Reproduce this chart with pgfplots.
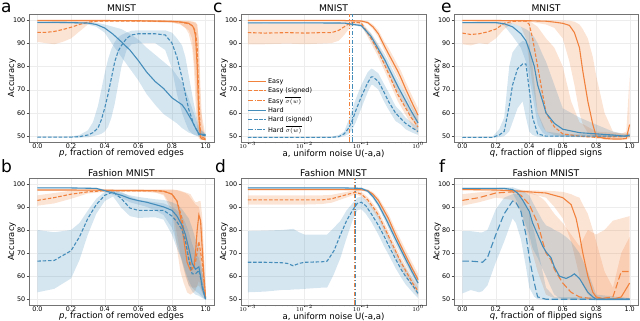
\documentclass[border=0pt]{standalone}
\usepackage{fontspec}
\setmainfont{DejaVu Sans}
\usepackage{pgfplots}
\pgfplotsset{compat=1.18}
\usepackage{pgfplotstable}
\usepgfplotslibrary{fillbetween}

\definecolor{cO}{RGB}{240,130,62}
\definecolor{cB}{RGB}{68,140,186}

% ---------------- Panel a ----------------
\pgfplotstableread{
x m lo hi
0 99.7 99.3 99.9
0.2 99.7 99.4 99.9
0.4 99.7 99.5 99.9
0.6 99.6 99.4 99.8
0.8 99.3 98.8 99.7
0.85 99.1 98.2 99.6
0.88 98.8 96.5 99.5
0.9 98.5 94 99.4
0.92 97.5 88 99.2
0.93 96.5 80 99
0.94 93 65 98.5
0.95 80 52 98
0.96 58 49 92
0.97 49.5 48.5 70
0.98 48.8 48.3 55
1.0 48.5 48.2 49
}\aE
\pgfplotstableread{
x m lo hi
0 94.6 90.5 98.5
0.05 94.6 90 99
0.1 95 89.5 99.5
0.15 95.8 90.5 99.6
0.2 96.8 92 99.7
0.25 98 95 99.8
0.3 99 98 99.9
0.35 99.4 99 99.9
0.4 99.5 99.2 99.9
0.6 99.5 99.2 99.9
0.8 99.3 98.8 99.8
0.85 99 98 99.6
0.9 98.3 95.5 99.5
0.92 97.5 92 99.3
0.94 95 75 99
0.95 88 60 98
0.96 65 50 90
0.97 50 48.5 62
1.0 48.8 48.3 50
}\aES
\pgfplotstableread{
x m lo hi
0 98.9 98.5 99.2
0.1 98.9 98.5 99.2
0.2 98.8 98.4 99.2
0.3 98.6 98 99.1
0.35 98 97 98.8
0.4 96.5 94.5 98
0.45 93.8 89 97
0.5 90.5 84 96
0.55 87 79 94
0.6 82.5 74 91.5
0.65 77.5 68 88
0.7 73.5 63.5 85
0.75 70.5 59.5 82
0.8 66.5 57 79
0.83 65 55.5 76
0.86 63.5 53.5 73
0.88 61.5 52.5 70
0.9 59 51.5 66
0.92 56.5 51 62
0.94 53.5 50.5 58
0.96 51 50 53
1.0 50.6 50.2 51
}\aH
\pgfplotstableread{
x m lo hi
0 49.6 49.4 49.8
0.1 49.6 49.4 49.8
0.2 49.6 49.4 49.9
0.25 49.8 49.4 50.5
0.3 50.5 49.5 52.5
0.33 51.5 50 56
0.36 53.5 50.5 63
0.38 57 51 70
0.4 62 52 77
0.42 68 54 83
0.44 75 58 87.5
0.46 82 64 90.5
0.48 86.5 72 92.5
0.5 89 80 93.5
0.53 92 87 94.5
0.56 93.5 89.5 95.3
0.6 94 90 95.5
0.7 94 90 95.5
0.76 93.5 87 95.5
0.8 90 79 94.5
0.83 84 68 92
0.86 75 60 89
0.88 68 56 84
0.9 61.5 52.5 76
0.93 55 50.5 64
0.96 50.8 49.8 54
1.0 50.2 49.8 50.8
}\aHS

% ---------------- Panel b ----------------
\pgfplotstableread{
x m lo hi
0 97.3 97 97.6
0.2 97.3 97 97.6
0.4 97.2 96.9 97.5
0.6 97.1 96.7 97.5
0.7 97 96.2 97.5
0.75 96.8 95 97.5
0.8 95.5 88 97.5
0.83 92.5 72 97.3
0.85 86 62 97
0.87 76 57 96.5
0.89 66 53 96
0.91 62.5 52 95.5
0.93 64 53 93
0.94 70 54 92
0.95 80 56 92
0.96 86.5 58 92.5
0.97 84 56 92.5
0.98 72 53 86
0.99 60 51 70
1.0 50.5 50 55
}\bE
\pgfplotstableread{
x m lo hi
0 92.8 90.5 95
0.1 94 91.5 96
0.2 95.5 93.5 97
0.3 96.5 95.8 97.5
0.4 97 96.5 97.5
0.6 97 96.5 97.5
0.7 97 96.3 97.5
0.75 96.8 95.5 97.5
0.8 95.5 90 97.5
0.83 92.5 78 97.2
0.86 85 66 96.5
0.88 76 60 96
0.9 68 56 95
0.92 63 55 93
0.94 66 55 91
0.96 75 56 90
0.98 66 53 82
1.0 50 50 52
}\bES
\pgfplotstableread{
x m lo hi
0 98.2 98 98.4
0.2 98.2 98 98.4
0.35 98 97.7 98.3
0.4 97 96.5 97.5
0.45 96 95.2 96.8
0.5 95 93.8 96
0.55 93.6 92 95
0.6 92.7 91 94.3
0.65 92 90 93.8
0.7 91 88.5 93.3
0.75 90 86.5 93
0.8 88.5 81 92
0.83 86 74 91
0.86 82 66 89
0.88 78 61 87
0.9 72 56 85
0.92 65.5 53.5 81
0.94 63 52 76
0.96 64 51.5 73
0.97 60 51 69
0.98 55 50.5 62
1.0 50 49.8 51
}\bH
\pgfplotstableread{
x m lo hi
0 66.5 53 80
0.1 66.8 54.5 79
0.2 71 59 80
0.25 77 67 83
0.3 85 78 88.5
0.35 91 87 93.5
0.4 95 92.5 96.5
0.45 96.5 94.5 97.5
0.5 93.5 89.5 96.5
0.55 89.5 86 94.5
0.6 88.5 85.2 93
0.7 88.5 85.5 92
0.75 88.5 84.5 91.5
0.8 86 78 90
0.83 83.5 72 88.5
0.86 80 67 86
0.88 75 62 83
0.9 67 58 79
0.92 61 55 74
0.94 61 53.5 70
0.96 62.5 52.5 68
0.98 56 51 62
1.0 50 49.8 51.5
}\bHS

% ---------------- Panel c ----------------
\pgfplotstableread{
x m lo hi
0.001 99.7 99.4 99.9
0.01 99.7 99.4 99.9
0.05 99.7 99.4 99.9
0.1 99.5 99.1 99.8
0.13 98.8 98.2 99.4
0.16 97 96 98
0.2 94 92.5 95.5
0.257 88.6 86.5 90.5
0.3 85.5 83 88
0.44 77.9 75 80.5
0.5 75 72 78
0.6 70.5 67.5 73.5
0.76 65 62 68
1.0 59 56 62
}\cE
\pgfplotstableread{
x m lo hi
0.001 94.5 89.5 98.5
0.002 94.3 89.5 98.4
0.005 94.5 89.8 98.5
0.01 94.3 89.5 98.4
0.02 94.5 89.8 98.5
0.03 94.5 90 98.6
0.04 95.5 91 99
0.05 97 93.5 99.3
0.06 98.3 96 99.6
0.07 98.8 97.5 99.7
0.08 99 98 99.7
0.1 98.6 97.6 99.4
0.148 92 90 94
0.195 87 84.5 89.5
0.257 80.7 78 83.5
0.44 67.9 65 71
0.76 57.9 55 61
1.0 54 51 57
}\cES
\pgfplotstableread{
x m lo hi
0.001 98.7 98.4 99
0.01 98.7 98.4 99
0.05 98.6 98.3 98.9
0.1 97.5 97 98
0.148 92.9 91.5 94.3
0.257 82.9 80.5 85.3
0.44 71.4 68.5 74.3
0.76 60.7 58 63.5
1.0 55.7 53 58.5
}\cH
\pgfplotstableread{
x m lo hi
0.001 49.5 49.3 49.7
0.01 49.5 49.3 49.7
0.03 49.5 49.3 49.8
0.04 49.8 49.4 50.5
0.05 51 50 52
0.06 53.5 51 57
0.07 57 53 62
0.08 61 56 66
0.1 67 62 72
0.13 73 69 77.5
0.15 75.5 72 79
0.16 75.5 72 78.8
0.2 73.5 70 77
0.25 69 65 72.5
0.3 65 61.5 69
0.4 60 56.5 63
0.5 57.5 55 60.5
0.6 55.5 53 58
0.8 53.5 51.5 55.5
1.0 52 50.5 54
}\cHS

% ---------------- Panel d ----------------
\pgfplotstableread{
x m lo hi
0.001 97.5 97.2 97.8
0.01 97.5 97.2 97.8
0.05 97.5 97.2 97.8
0.1 97.4 97 97.8
0.13 97 96.4 97.6
0.16 95.5 94.6 96.4
0.2 92.8 91.5 94
0.25 88.5 86.8 90.2
0.3 85 83 87
0.4 78 75.8 80.2
0.5 73 70.5 75.5
0.6 69 66.5 71.5
0.8 63 60.5 65.5
1.0 58.5 56 61
}\dE
\pgfplotstableread{
x m lo hi
0.001 93 91 95
0.005 93 91 95
0.01 93 91 95
0.02 93 91.2 95
0.03 93.5 91.8 95.2
0.05 95 93.7 96.3
0.07 96 95 97
0.08 96.3 95.4 97.2
0.1 95.5 94.5 96.5
0.13 93 91.8 94.2
0.16 90 88.5 91.5
0.2 86.5 84.8 88.2
0.25 81.5 79.5 83.5
0.3 77.5 75.5 79.5
0.4 71 68.8 73.2
0.5 66 63.8 68.2
0.6 62.5 60.3 64.7
0.8 57 55 59
1.0 53.5 51.5 55.5
}\dES
\pgfplotstableread{
x m lo hi
0.001 98.2 97.9 98.5
0.01 98.2 97.9 98.5
0.05 98.2 97.9 98.5
0.1 98 97.6 98.4
0.13 96.8 96.2 97.4
0.16 94.5 93.6 95.4
0.2 91 89.8 92.2
0.275 84.5 82.8 86.2
0.41 75.6 73.5 77.7
0.6 67.5 65.3 69.7
0.8 61.5 59.3 63.7
1.0 57 54.8 59.2
}\dH
\pgfplotstableread{
x m lo hi
0.001 66 53 79.5
0.002 66 53.3 79.7
0.004 65.8 54 80
0.005 65.5 54 80.2
0.0063 64.5 54.2 80.5
0.008 65.5 54.3 79
0.01 66 54.5 78
0.02 66.2 55 78
0.025 66.5 55 78
0.033 71 61 81
0.043 78 68 84
0.055 84 76.5 88.5
0.07 88.5 84 91.5
0.085 91.5 88.5 94
0.1 92 89 94.5
0.12 90.5 87 93
0.15 87 83.5 90.5
0.2 82 78 86
0.25 77.5 73 81.5
0.3 73.5 69.5 77.5
0.4 67.5 63.5 71
0.5 63 59.5 66.5
0.6 60 56.5 63.5
0.8 56 53 59
1.0 52.5 50.5 55
}\dHS

% ---------------- Panel e ----------------
\pgfplotstableread{
x m lo hi
0 99.7 99.4 99.9
0.2 99.7 99.4 99.9
0.4 99.6 99.2 99.9
0.5 99.4 98 99.9
0.55 99 96.5 99.8
0.6 98.5 92 99.8
0.64 97.6 82 99.6
0.67 94.5 72 99.2
0.7 88 60 98
0.72 78 55 96
0.75 65 51.5 92
0.78 55 49.5 84
0.8 50 49 76
0.85 49 48.5 60
0.9 48.8 48.3 52
0.95 48.8 48.3 51
0.98 49 48.5 52
1.0 55 49 76
}\eE
\pgfplotstableread{
x m lo hi
0 94.3 89.5 98.5
0.05 93.7 89 99
0.1 94 90 99.5
0.15 94.8 89.5 99.6
0.2 96 92 99.7
0.25 98.5 96 99.8
0.3 99.3 98.5 99.9
0.35 99.5 97 100
0.38 99.4 92 99.9
0.4 98 82 99.5
0.42 92 72 98.5
0.45 80 60 97
0.48 68 54 94
0.5 60 52 92
0.55 54 50.5 88
0.6 51 50 80
0.65 50.5 49.8 65
0.7 50 49.6 56
0.8 49.5 49.2 52
1.0 50 49.5 51
}\eES
\pgfplotstableread{
x m lo hi
0 98.8 98.5 99.1
0.2 98.8 98.4 99.1
0.25 98.3 97.5 98.8
0.3 97 93 98.5
0.35 94 88 97
0.38 91 82 96
0.4 87 75 95
0.43 80 63 92.5
0.45 72 55 90
0.48 65 51.5 85
0.5 60 50.5 82
0.55 55.5 50 72
0.6 53 49.8 62
0.7 51.5 49.8 58
0.8 51 49.8 55
0.9 50.5 49.6 52
0.97 50 49.5 51
1.0 50.5 49.8 51.5
}\eH
\pgfplotstableread{
x m lo hi
0 49.5 49.3 49.7
0.18 49.5 49.3 49.8
0.22 50.5 49.6 53
0.25 52 50 58
0.28 63 52 80
0.3 72 56 86
0.33 79 62 89
0.36 81 65 91
0.38 81 58 90.5
0.4 70 52 89
0.42 58 50.5 80
0.45 51 49.8 60
0.5 50 49.6 52
0.6 50 49.6 51
1.0 50 49.6 50.5
}\eHS

% ---------------- Panel f ----------------
\pgfplotstableread{
x m lo hi
0 97.5 97.2 97.8
0.2 97.3 97 97.7
0.3 97 96.6 97.5
0.4 96.5 95.8 97.2
0.5 96 94 97
0.55 95 90 96.8
0.6 94 85 96.5
0.65 91 75 95.5
0.68 85 66 94.5
0.7 78 60 94
0.72 70 56 91
0.75 60 52 87
0.78 53 50.5 80
0.8 51 50 75
0.85 50 49.6 62
0.9 50 49.6 55
0.95 51 49.8 70
1.0 57 50 77
}\fE
\pgfplotstableread{
x m lo hi
0 92.8 90.5 95.5
0.1 94 92 96.3
0.2 96 94 97
0.3 96.5 93 97
0.35 95 88 97
0.4 91 75 96.5
0.45 83 62 95
0.48 75 56 93.5
0.5 70 52 92
0.53 67 51 89
0.55 63 50.5 87
0.6 57 50 83
0.65 53 49.8 78
0.7 51 49.8 73
0.75 50.5 49.8 80
0.8 50.5 49.8 78
0.85 50.5 49.8 80
0.9 51 49.8 84
0.95 62 50 85
1.0 62 50 86
}\fES
\pgfplotstableread{
x m lo hi
0 98 97.7 98.3
0.25 98 97.6 98.4
0.3 97.5 96 98.5
0.33 96 92 97.8
0.36 93 86 97
0.4 88 78 95
0.42 83 72 92
0.45 78 68 88
0.48 73 63 84
0.5 70.5 60 82
0.53 68 55 81
0.55 64 52 80
0.58 60 50.5 79
0.62 59 50 77
0.65 60 50 75
0.67 61 50 73
0.7 59 49.8 70
0.75 53 49.7 62
0.78 51 49.6 56
0.8 50 49.5 52
1.0 50 49.5 50.5
}\fH
\pgfplotstableread{
x m lo hi
0 66.5 52.5 79.5
0.05 66.5 54 79.5
0.1 66.2 53 79
0.12 66 53.5 79
0.15 68 56 80
0.2 78 66 89
0.25 87 75 94
0.3 92.5 85 95.5
0.32 92 83 95.5
0.35 88 76 94
0.38 78 64 91
0.4 68 55 87
0.43 57 51 79
0.45 51 50 72
0.5 50 49.6 55
0.55 50 49.6 51
1.0 50 49.6 50.5
}\fHS

\newcommand{\band}[3]{%
  \addplot[name path=#3u, draw=none, forget plot] table[x=x,y=hi]{#1};
  \addplot[name path=#3l, draw=none, forget plot] table[x=x,y=lo]{#1};
  \addplot[fill=#2, fill opacity=0.22, draw=none, forget plot] fill between[of=#3u and #3l];
}

\tikzset{
  dsh/.style={dash pattern=on 3.5pt off 1.8pt},
  dshdot/.style={dash pattern=on 4.5pt off 1.6pt on 1.2pt off 1.6pt},
  ldsh/.style={dash pattern=on 6.5pt off 2.8pt},
}

\pgfplotsset{
  panel/.style={
    ymin=47.5, ymax=102.5, ytick={50,60,...,100},
    ylabel={Accuracy},
    tick align=outside, tick pos=left,
    axis line style={black!55}, major tick length=2.5pt, minor tick length=1.5pt,
    tick style={black!70},
    grid=major, grid style={black!7, very thin},
    tick label style={font=\fontsize{6.4}{7.5}\selectfont, inner sep=1pt},
    xticklabel style={text height=4.7pt, text depth=0pt, yshift=2pt},
    every axis y label/.style={at={(axis description cs:-0.092,0.5)}, rotate=90, anchor=center, font=\fontsize{8.4}{9}\selectfont},
    every axis x label/.style={at={(axis description cs:0.5,-0.09)}, anchor=center, font=\fontsize{8.6}{9}\selectfont},
    every axis title/.style={at={(axis description cs:0.5,1.042)}, anchor=center, font=\fontsize{9.2}{10}\selectfont},
    /pgf/number format/assume math mode=true,
    every axis plot/.append style={line width=1.1pt},
  },
  linx/.style={xmin=-0.05, xmax=1.05, xtick={0,0.2,...,1},
    xticklabel style={/pgf/number format/fixed, /pgf/number format/fixed zerofill, /pgf/number format/precision=1}},
  logticks/.style={xmin=0.000759, xmax=1.38, xtick={0.001,0.01,0.1,1},
    xticklabels={$10^{-3}$,$10^{-2}$,$10^{-1}$,$10^{0}$}},
}

\begin{document}
\begin{tikzpicture}

% ---- a ----
\begin{axis}[scale only axis, width=185pt, height=128pt, anchor=south west, at={(29pt,179pt)},
  panel, linx, title={MNIST}, xlabel={\textit{p}, fraction of removed edges}]
\band{\aE}{cO}{aEb}
\band{\aES}{cO}{aESb}
\band{\aH}{cB}{aHb}
\band{\aHS}{cB}{aHSb}
\addplot[cO] table[x=x,y=m]{\aE};
\addplot[cO, dsh] table[x=x,y=m]{\aES};
\addplot[cB] table[x=x,y=m]{\aH};
\addplot[cB, dsh] table[x=x,y=m]{\aHS};
\end{axis}

% ---- c ----
\begin{axis}[xmode=log, scale only axis, width=185pt, height=128pt, anchor=south west, at={(241pt,179pt)},
  panel, logticks, title={MNIST}, xlabel={a, uniform noise U(-a,a)},
  legend style={at={(0.02,0.53)}, anchor=north west, draw=none, fill=none,
    font=\fontsize{6.5}{7.5}\selectfont, row sep=-1.2pt},
  legend cell align=left]
\band{\cE}{cO}{cEb}
\band{\cES}{cO}{cESb}
\band{\cH}{cB}{cHb}
\band{\cHS}{cB}{cHSb}
\addplot[cO] table[x=x,y=m]{\cE};
\addlegendentry{Easy}
\addplot[cO, dsh] table[x=x,y=m]{\cES};
\addlegendentry{Easy (signed)}
\addplot[cO, dshdot] coordinates {(0.062,47.5) (0.062,102.5)};
\addlegendentry{Easy $\overline{\sigma(w)}$}
\addplot[cB] table[x=x,y=m]{\cH};
\addlegendentry{Hard}
\addplot[cB, dsh] table[x=x,y=m]{\cHS};
\addlegendentry{Hard (signed)}
\addplot[cB, dshdot] coordinates {(0.069,47.5) (0.069,102.5)};
\addlegendentry{Hard $\overline{\sigma(w)}$}
\end{axis}

% ---- e ----
\begin{axis}[scale only axis, width=184pt, height=128pt, anchor=south west, at={(454pt,179pt)},
  panel, linx, title={MNIST}, xlabel={\textit{q}, fraction of flipped signs}]
\band{\eE}{cO}{eEb}
\band{\eES}{cO}{eESb}
\band{\eH}{cB}{eHb}
\band{\eHS}{cB}{eHSb}
\addplot[cO] table[x=x,y=m]{\eE};
\addplot[cO, dsh] table[x=x,y=m]{\eES};
\addplot[cB] table[x=x,y=m]{\eH};
\addplot[cB, dsh] table[x=x,y=m]{\eHS};
\end{axis}

% ---- b ----
\begin{axis}[scale only axis, width=185pt, height=127pt, anchor=south west, at={(29pt,16pt)},
  panel, linx, title={Fashion MNIST}, xlabel={\textit{p}, fraction of removed edges}]
\band{\bE}{cO}{bEb}
\band{\bES}{cO}{bESb}
\band{\bH}{cB}{bHb}
\band{\bHS}{cB}{bHSb}
\addplot[cO] table[x=x,y=m]{\bE};
\addplot[cO, dsh] table[x=x,y=m]{\bES};
\addplot[cB] table[x=x,y=m]{\bH};
\addplot[cB, dsh] table[x=x,y=m]{\bHS};
\end{axis}

% ---- d ----
\begin{axis}[xmode=log, scale only axis, width=185pt, height=127pt, anchor=south west, at={(241pt,16pt)},
  panel, logticks, title={Fashion MNIST}, xlabel={a, uniform noise U(-a,a)}]
\band{\dE}{cO}{dEb}
\band{\dES}{cO}{dESb}
\band{\dH}{cB}{dHb}
\band{\dHS}{cB}{dHSb}
\addplot[cO] table[x=x,y=m]{\dE};
\addplot[cO, dsh] table[x=x,y=m]{\dES};
\addplot[cO, dshdot] coordinates {(0.077,47.5) (0.077,102.5)};
\addplot[cB] table[x=x,y=m]{\dH};
\addplot[cB, dsh] table[x=x,y=m]{\dHS};
\addplot[cB, dshdot] coordinates {(0.080,47.5) (0.080,102.5)};
\end{axis}

% ---- f ----
\begin{axis}[scale only axis, width=184pt, height=127pt, anchor=south west, at={(454pt,16pt)},
  panel, linx, title={Fashion MNIST}, xlabel={\textit{q}, fraction of flipped signs}]
\band{\fE}{cO}{fEb}
\band{\fES}{cO}{fESb}
\band{\fH}{cB}{fHb}
\band{\fHS}{cB}{fHSb}
\addplot[cO] table[x=x,y=m]{\fE};
\addplot[cO, ldsh] table[x=x,y=m]{\fES};
\addplot[cB] table[x=x,y=m]{\fH};
\addplot[cB, ldsh] table[x=x,y=m]{\fHS};
\end{axis}

% panel letters
\node[anchor=base west, inner sep=0pt, font=\fontsize{17}{17}\selectfont] at (1pt,308.5pt) {a};
\node[anchor=base west, inner sep=0pt, font=\fontsize{17}{17}\selectfont] at (213pt,308.5pt) {c};
\node[anchor=base west, inner sep=0pt, font=\fontsize{17}{17}\selectfont] at (441pt,308.5pt) {e};
\node[anchor=base west, inner sep=0pt, font=\fontsize{17}{17}\selectfont] at (1pt,148pt) {b};
\node[anchor=base west, inner sep=0pt, font=\fontsize{17}{17}\selectfont] at (215pt,148pt) {d};
\node[anchor=base west, inner sep=0pt, font=\fontsize{17}{17}\selectfont] at (439pt,148pt) {f};

\pgfresetboundingbox
\path[use as bounding box] (0,0) rectangle (640pt,321pt);
\end{tikzpicture}
\end{document}
